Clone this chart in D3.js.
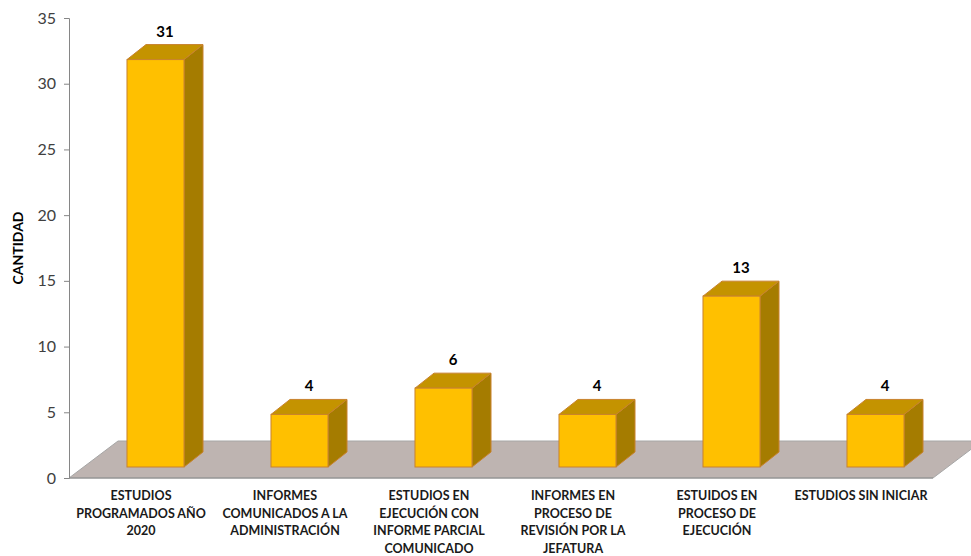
<!DOCTYPE html>
<html>
<head>
<meta charset="utf-8">
<script src="https://cdn.jsdelivr.net/npm/d3@7"></script>
<style>
  body { margin: 0; background: #fff; }
  #chart { width: 971px; height: 556px; }
  text { font-family: Lato, "Open Sans", sans-serif; }
</style>
</head>
<body>
<div id="chart"></div>
<script>
const categories = [
  "ESTUDIOS PROGRAMADOS AÑO 2020",
  "INFORMES COMUNICADOS A LA ADMINISTRACIÓN",
  "ESTUDIOS EN EJECUCIÓN CON INFORME PARCIAL COMUNICADO",
  "INFORMES EN PROCESO DE REVISIÓN POR LA JEFATURA",
  "ESTUIDOS EN PROCESO DE EJECUCIÓN",
  "ESTUDIOS SIN INICIAR"
];
// wrapped lines as they appear under the axis
const categoryLines = [
  ["ESTUDIOS", "PROGRAMADOS AÑO", "2020"],
  ["INFORMES", "COMUNICADOS A LA", "ADMINISTRACIÓN"],
  ["ESTUDIOS EN", "EJECUCIÓN CON", "INFORME PARCIAL", "COMUNICADO"],
  ["INFORMES EN", "PROCESO DE", "REVISIÓN POR LA", "JEFATURA"],
  ["ESTUIDOS EN", "PROCESO DE", "EJECUCIÓN"],
  ["ESTUDIOS SIN INICIAR"]
];
const values = [31, 4, 6, 4, 13, 4];
const yTicks = [0, 5, 10, 15, 20, 25, 30, 35];
const yTitle = "CANTIDAD";

function drawChart(divId) {
  const width = 971, height = 556;
  const margin = { top: 18, right: 38, bottom: 78, left: 69 };

  // oblique 3D offsets
  const floorDepth = { dx: 49, dy: -37 };
  const barShift = { dx: 14.5, dy: -11 };   // bar front face sits inside the floor
  const barDepth = { dx: 19, dy: -15 };

  const svg = d3.select(`#${divId}`)
    .append("svg")
    .attr("width", width)
    .attr("height", height);

  const x = d3.scaleBand()
    .domain(categories)
    .range([margin.left, width - margin.right])
    .paddingInner(0.604)
    .paddingOuter(0.302);

  const y = d3.scaleLinear()
    .domain([0, 35])
    .range([height - margin.bottom, margin.top]);

  const y0 = y(0);
  const x0 = margin.left, x1 = width - margin.right;

  // floor
  svg.append("path")
    .attr("d", `M${x0},${y0} L${x0 + floorDepth.dx},${y0 + floorDepth.dy} L${x1 + floorDepth.dx},${y0 + floorDepth.dy} L${x1},${y0} Z`)
    .attr("fill", "#beb4b1")
    .attr("stroke", "#a6a6a6")
    .attr("stroke-width", 1);

  // y axis
  const yAxis = d3.axisLeft(y).tickValues(yTicks).tickSize(5).tickPadding(8);
  const gy = svg.append("g")
    .attr("transform", `translate(${x0},0)`)
    .call(yAxis);
  gy.select(".domain").attr("stroke", "#868686");
  gy.selectAll(".tick line").attr("stroke", "#868686");
  gy.selectAll(".tick text")
    .attr("fill", "#404040")
    .style("font-size", "16px");

  // front edge of floor
  svg.append("line")
    .attr("x1", x0).attr("x2", x1)
    .attr("y1", y0).attr("y2", y0)
    .attr("stroke", "#8c8c8c");

  // bars
  const bars = svg.append("g")
    .selectAll("g")
    .data(values)
    .join("g");

  const stroke = "#c8822e";

  bars.each(function (d, i) {
    const g = d3.select(this);
    const left = x(categories[i]) + barShift.dx;
    const right = left + x.bandwidth();
    const top = y(d) + barShift.dy;
    const bottom = y0 + barShift.dy;
    const bx = barDepth.dx, by = barDepth.dy;

    // side
    g.append("path")
      .attr("d", `M${right},${top} L${right + bx},${top + by} L${right + bx},${bottom + by} L${right},${bottom} Z`)
      .attr("fill", "#a57c00")
      .attr("stroke", stroke)
      .attr("stroke-linejoin", "round");
    // top
    g.append("path")
      .attr("d", `M${left},${top} L${left + bx},${top + by} L${right + bx},${top + by} L${right},${top} Z`)
      .attr("fill", "#c49300")
      .attr("stroke", stroke)
      .attr("stroke-linejoin", "round");
    // front
    g.append("rect")
      .attr("x", left)
      .attr("y", top)
      .attr("width", x.bandwidth())
      .attr("height", bottom - top)
      .attr("fill", "#ffc000")
      .attr("stroke", stroke);

    // value label
    g.append("text")
      .attr("x", left + x.bandwidth() / 2 + bx / 2)
      .attr("y", top + by - 8)
      .attr("text-anchor", "middle")
      .attr("fill", "#000")
      .style("font-size", "15px")
      .style("font-weight", 700)
      .text(d);
  });

  // category labels
  const labels = svg.append("g")
    .selectAll("text")
    .data(categories)
    .join("text")
    .attr("text-anchor", "middle")
    .attr("fill", "#1a1a1a")
    .style("font-size", "12.5px")
    .style("font-weight", 700)
    .attr("transform", (d) => `translate(${x(d) + x.bandwidth() / 2},500)`);

  labels.each(function (d, i) {
    d3.select(this)
      .selectAll("tspan")
      .data(categoryLines[i])
      .join("tspan")
      .attr("x", 0)
      .attr("dy", (l, j) => (j === 0 ? 0 : 17.6))
      .text((l) => l);
  });

  // y title
  svg.append("text")
    .attr("transform", `translate(23,${(y(35) + y(0)) / 2}) rotate(-90)`)
    .attr("text-anchor", "middle")
    .attr("fill", "#000")
    .style("font-size", "14px")
    .style("font-weight", 700)
    .text(yTitle);
}

drawChart("chart");
</script>
</body>
</html>
